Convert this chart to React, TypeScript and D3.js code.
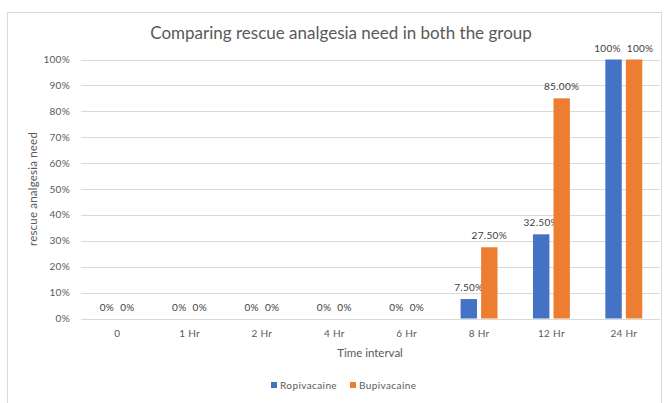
import * as d3 from 'd3';
import { useEffect, useRef } from 'react';

const categories = ['0', '1 Hr', '2 Hr', '4 Hr', '6 Hr', '8 Hr', '12 Hr', '24 Hr'];
const seriesNames = ['Ropivacaine', 'Bupivacaine'];
const ropivacaine = [0, 0, 0, 0, 0, 7.5, 32.5, 100];
const bupivacaine = [0, 0, 0, 0, 0, 27.5, 85, 100];
const ropivacaineLabels = ['0%', '0%', '0%', '0%', '0%', '7.50%', '32.50%', '100%'];
const bupivacaineLabels = ['0%', '0%', '0%', '0%', '0%', '27.50%', '85.00%', '100%'];
const yTicks = [0, 10, 20, 30, 40, 50, 60, 70, 80, 90, 100];
const colors = ['#4472c4', '#ed7d31'];

const W = 665;
const H = 403;
const FONT = 'Lato, "Open Sans", sans-serif';

export default function App() {
  const ref = useRef<SVGSVGElement>(null);

  useEffect(() => {
    const svg = d3.select(ref.current);
    svg.selectAll('*').remove();

    const left = 81;
    const right = 660;
    const top = 59.5;
    const bottom = 318.5;

    // chart frame
    svg
      .append('rect')
      .attr('x', 7.5)
      .attr('y', 12.5)
      .attr('width', 654)
      .attr('height', 400)
      .attr('fill', '#fff')
      .attr('stroke', '#d9d9d9');

    const x0 = d3.scaleBand().domain(categories).range([left, right]).paddingInner(0.49).paddingOuter(0.245);
    const x1 = d3.scaleBand().domain(seriesNames).range([0, x0.bandwidth()]).paddingInner(0.2);
    const y = d3.scaleLinear().domain([0, 100]).range([bottom, top]);

    // gridlines
    svg
      .append('g')
      .selectAll('line')
      .data(yTicks)
      .join('line')
      .attr('x1', left)
      .attr('x2', right)
      .attr('y1', (d) => Math.round(y(d)) + 0.5)
      .attr('y2', (d) => Math.round(y(d)) + 0.5)
      .attr('stroke', '#d9d9d9')
      .attr('stroke-width', 1);

    // y tick labels
    svg
      .append('g')
      .selectAll('text')
      .data(yTicks)
      .join('text')
      .attr('x', 70)
      .attr('y', (d) => y(d) + 3.5)
      .attr('text-anchor', 'end')
      .attr('font-size', 10)
      .attr('letter-spacing', 0.3)
      .attr('font-family', FONT)
      .attr('fill', '#595959')
      .text((d) => d + '%');

    // x tick labels
    svg
      .append('g')
      .selectAll('text')
      .data(categories)
      .join('text')
      .attr('x', (d) => (x0(d) as number) + x0.bandwidth() / 2)
      .attr('y', bottom + 18)
      .attr('text-anchor', 'middle')
      .attr('font-size', 10)
      .attr('letter-spacing', 0.3)
      .attr('font-family', FONT)
      .attr('fill', '#595959')
      .text((d) => d);

    const series = [
      { name: seriesNames[0], values: ropivacaine, labels: ropivacaineLabels, color: colors[0] },
      { name: seriesNames[1], values: bupivacaine, labels: bupivacaineLabels, color: colors[1] },
    ];

    const labelGroups: d3.Selection<SVGTextElement, number, SVGGElement, unknown>[] = [];
    series.forEach((s) => {
      const g = svg.append('g');
      g.selectAll('rect')
        .data(s.values)
        .join('rect')
        .attr('x', (d, i) => (x0(categories[i]) as number) + (x1(s.name) as number))
        .attr('y', (d) => y(d))
        .attr('width', x1.bandwidth())
        .attr('height', (d) => bottom - y(d))
        .attr('fill', s.color);
      const labels = g
        .selectAll<SVGTextElement, number>('text')
        .data(s.values)
        .join('text')
        .attr('x', (d, i) => (x0(categories[i]) as number) + (x1(s.name) as number) + x1.bandwidth() / 2)
        .attr('y', (d) => y(d) - 8)
        .attr('text-anchor', 'middle')
        .attr('font-size', 10)
        .attr('letter-spacing', 0.3)
        .attr('font-family', FONT)
        .attr('fill', '#404040')
        .text((d, i) => s.labels[i]);
      labelGroups.push(labels as any);
    });

    // push apart labels that sit side by side at the same height
    const a = labelGroups[0].nodes();
    const b = labelGroups[1].nodes();
    categories.forEach((c, i) => {
      if (ropivacaine[i] !== bupivacaine[i]) return;
      const wa = a[i].getComputedTextLength();
      const wb = b[i].getComputedTextLength();
      const xa = +a[i].getAttribute('x')!;
      const xb = +b[i].getAttribute('x')!;
      const overlap = xa + wa / 2 + 6 - (xb - wb / 2);
      if (overlap > 0) {
        a[i].setAttribute('x', String(xa - overlap / 2));
        b[i].setAttribute('x', String(xb + overlap / 2));
      }
    });

    // title
    svg
      .append('text')
      .attr('x', 341)
      .attr('y', 39)
      .attr('text-anchor', 'middle')
      .attr('font-size', 17)
      .attr('font-family', FONT)
      .attr('fill', '#595959')
      .text('Comparing rescue analgesia need in both the group');

    // axis titles
    svg
      .append('text')
      .attr('transform', `translate(37,${(top + bottom) / 2}) rotate(-90)`)
      .attr('text-anchor', 'middle')
      .attr('font-size', 11.5)
      .attr('letter-spacing', 0.2)
      .attr('font-family', FONT)
      .attr('fill', '#595959')
      .text('rescue analgesia need');

    svg
      .append('text')
      .attr('x', 370)
      .attr('y', 357)
      .attr('text-anchor', 'middle')
      .attr('font-size', 11.5)
      .attr('font-family', FONT)
      .attr('fill', '#595959')
      .text('Time interval');

    // legend
    const legendX = [271, 350];
    series.forEach((s, i) => {
      const lg = svg.append('g').attr('transform', `translate(${legendX[i]},382)`);
      lg.append('rect').attr('width', 6).attr('height', 6).attr('fill', s.color);
      lg.append('text')
        .attr('x', 9)
        .attr('y', 7)
        .attr('font-size', 10)
        .attr('letter-spacing', 0.4)
        .attr('font-family', FONT)
        .attr('fill', '#595959')
        .text(s.name);
    });
  }, []);

  return <svg ref={ref} width={W} height={H} style={{ position: 'absolute', left: 0, top: 0 }} />;
}
